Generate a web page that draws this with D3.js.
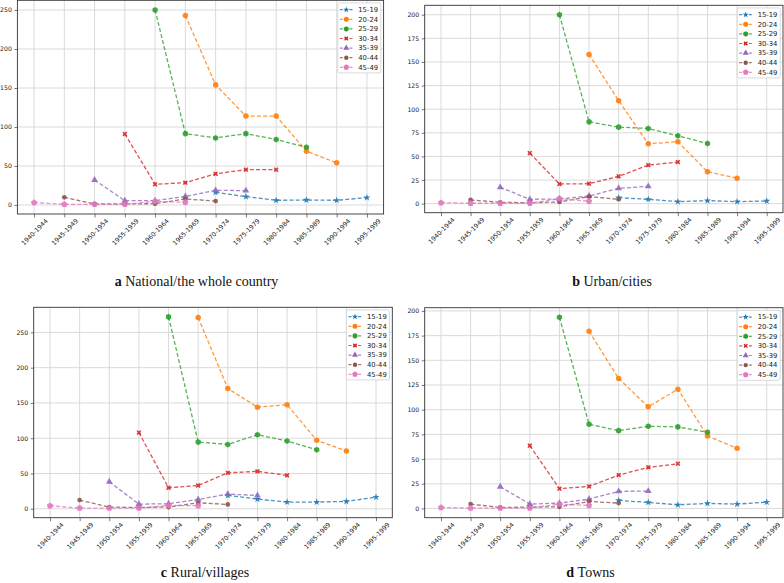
<!DOCTYPE html>
<html><head><meta charset="utf-8">
<script src="https://cdn.jsdelivr.net/npm/d3@7"></script>
<style>body{margin:0;background:#fff} svg{display:block}</style></head>
<body><svg id="chart" width="784" height="583"></svg>
<script>
const periods = ["1940-1944","1945-1949","1950-1954","1955-1959","1960-1964","1965-1969","1970-1974","1975-1979","1980-1984","1985-1989","1990-1994","1995-1999"];
const ageGroups = ["15-19","20-24","25-29","30-34","35-39","40-44","45-49"];
const colors = ["#1f77b4","#ff7f0e","#2ca02c","#d62728","#9467bd","#8c564b","#e377c2"];
const N = null;
// a National/the whole country
const national = [
  [N,N,N,N,N,N,16.2,10.7,6.0,6.4,6.0,9.4],
  [N,N,N,N,N,243,154,114,114,69,54,N],
  [N,N,N,N,250,91.5,86,91.5,84,74,N,N],
  [N,N,N,91,26.5,28.6,40,45.3,45.3,N,N,N],
  [N,N,32,5.5,5.5,11,18.8,18.4,N,N,N,N],
  [N,9.8,1.3,1.3,1.7,7.7,5.0,N,N,N,N,N],
  [3.0,0.9,0.9,0.9,4.7,3.4,N,N,N,N,N,N]
];
// b Urban/cities
const urban = [
  [N,N,N,N,N,N,6.3,4.6,2.1,3.2,2.1,2.8],
  [N,N,N,N,N,158,109,63.4,65.5,33.8,27,N],
  [N,N,N,N,200,86.6,81,79.6,71.8,63.7,N,N],
  [N,N,N,53.5,20.8,21.1,28.9,40.8,44,N,N,N],
  [N,N,17.3,4.6,4.9,8.1,16.2,18.3,N,N,N,N],
  [N,3.9,1.4,1.0,1.8,7.4,4.6,N,N,N,N,N],
  [1.0,0.4,0.4,0.4,5.3,2.5,N,N,N,N,N,N]
];
// c Rural/villages
const rural = [
  [N,N,N,N,N,N,18.9,13.7,9.5,9.5,10.4,16.5],
  [N,N,N,N,N,271,170.6,144,147.4,97,82,N],
  [N,N,N,N,272,94.5,91.2,105,96,83.6,N,N],
  [N,N,N,108,29.8,33,51,53,47.3,N,N,N],
  [N,N,38.3,6.6,7.1,13.2,20.8,18.9,N,N,N,N],
  [N,12.3,2.4,1.9,2.4,8.5,6.1,N,N,N,N,N],
  [4.3,0.9,0.9,0.9,4.7,4.3,N,N,N,N,N,N]
];
// d Towns
const towns = [
  [N,N,N,N,N,N,8.1,6.1,3.7,5.1,4.4,6.4],
  [N,N,N,N,N,179.4,131.6,102.9,120.8,73.4,60.9,N],
  [N,N,N,N,193.6,85.3,78.8,83.2,82.6,77.2,N,N],
  [N,N,N,63.6,20,22.3,33.8,41.6,45.3,N,N,N],
  [N,N,22,4.4,5.4,9.5,17.3,17.6,N,N,N,N],
  [N,4.4,1.0,1.4,1.7,7.1,5.4,N,N,N,N,N],
  [1.0,0.3,0.3,0.3,4.4,3.0,N,N,N,N,N,N]
];
const captionLetters = ["a","b","c","d"];
const captionTexts = ["National/the whole country","Urban/cities","Rural/villages","Towns"];
const yTicksA = [0,50,100,150,200,250];
const yTicksB = [0,25,50,75,100,125,150,175,200];
const yTicksC = [0,50,100,150,200,250];
const yTicksD = [0,25,50,75,100,125,150,175,200];

// pentagon & hexagon symbols
function polySymbol(n, rot){
  return {draw(ctx, size){
    const r = Math.sqrt(size/ (n*0.5*Math.sin(2*Math.PI/n)));
    for(let k=0;k<n;k++){
      const a = rot + k*2*Math.PI/n;
      const px = r*Math.sin(a), py = -r*Math.cos(a);
      if(k===0) ctx.moveTo(px,py); else ctx.lineTo(px,py);
    }
    ctx.closePath();
  }};
}
const xSym = {draw(ctx,size){
  const r = Math.sqrt(size)/2.2, w = r*0.38;
  const pts=[[-r+w,-r],[0,-w*1.4],[r-w,-r],[r,-r+w],[w*1.4,0],[r,r-w],[r-w,r],[0,w*1.4],[-r+w,r],[-r,r-w],[-w*1.4,0],[-r,-r+w]];
  pts.forEach((p,i)=> i? ctx.lineTo(p[0],p[1]) : ctx.moveTo(p[0],p[1]));
  ctx.closePath();
}};
const symbols = [d3.symbolStar, d3.symbolCircle, polySymbol(6,0), xSym, d3.symbolTriangle, d3.symbolCircle, polySymbol(5,0)];
const symSizes = [16, 24, 24, 28, 20, 18, 26];
const legSizes = [12, 20, 20, 22, 16, 15, 22];

const panels = [
  {data: national, yTicks: yTicksA, x0:17.4, x1:383.6, y0:0.3, y1:214, capX:196.5, capY:285.5},
  {data: urban, yTicks: yTicksB, x0:424.7, x1:783, y0:5.3, y1:212.7, capX:612, capY:285.5},
  {data: rural, yTicks: yTicksC, x0:33.7, x1:392.3, y0:307.3, y1:517.7, capX:205, capY:577},
  {data: towns, yTicks: yTicksD, x0:424.7, x1:783, y0:307.7, y1:517.7, capX:590.5, capY:577}
];

const svg = d3.select("#chart");
svg.append("rect").attr("width",784).attr("height",583).attr("fill","#fff");
const tickFont = "'DejaVu Sans', sans-serif";

panels.forEach((p, pi) => {
  const g = svg.append("g");
  const idx = periods.map((_, i) => i);
  const x = d3.scaleLinear().domain([-0.55, periods.length - 1 + 0.55]).range([p.x0, p.x1]);
  const vals = p.data.flat().filter(v => v != null);
  const mn = d3.min(vals), mx = d3.max(vals), r = mx - mn;
  const y = d3.scaleLinear().domain([mn - 0.05*r, mx + 0.05*r]).range([p.y1, p.y0]);

  // grid
  g.append("g").selectAll("line").data(idx).join("line")
    .attr("x1", d => x(d)).attr("x2", d => x(d)).attr("y1", p.y0).attr("y2", p.y1)
    .attr("stroke", "#d6d6d6").attr("stroke-width", 0.9);
  g.append("g").selectAll("line").data(p.yTicks).join("line")
    .attr("x1", p.x0).attr("x2", p.x1).attr("y1", d => y(d)).attr("y2", d => y(d))
    .attr("stroke", "#d6d6d6").attr("stroke-width", 0.9);

  // axes
  const ya = g.append("g").attr("transform", `translate(${p.x0},0)`)
    .call(d3.axisLeft(y).tickValues(p.yTicks).tickSize(3).tickPadding(2.5));
  ya.select(".domain").remove();
  ya.selectAll("line").attr("stroke", "#444").attr("stroke-width", 0.7);
  ya.selectAll("text").attr("font-family", tickFont).attr("font-size", 6.2).attr("fill", "#222");

  const xa = g.append("g").attr("transform", `translate(0,${p.y1})`)
    .call(d3.axisBottom(x).tickValues(idx).tickFormat(i => periods[i]).tickSize(3.5));
  xa.select(".domain").remove();
  xa.selectAll("line").attr("stroke", "#444").attr("stroke-width", 0.7);
  xa.selectAll("text")
    .attr("font-family", tickFont).attr("font-size", 6.3).attr("fill", "#222")
    .attr("y", 0).attr("dy", "0.35em").attr("text-anchor", "middle")
    .attr("transform", "translate(0,18) rotate(-45)");

  // frame
  g.append("rect").attr("x", p.x0).attr("y", p.y0).attr("width", p.x1 - p.x0).attr("height", p.y1 - p.y0)
    .attr("fill", "none").attr("stroke", "#333").attr("stroke-width", 0.9);

  // series
  const line = d3.line().defined(d => d.v != null).x(d => x(d.i)).y(d => y(d.v));
  p.data.forEach((series, si) => {
    const pts = series.map((v, i) => ({i, v}));
    g.append("path").datum(pts).attr("d", line)
      .attr("fill", "none").attr("stroke", colors[si]).attr("stroke-width", 1.3)
      .attr("stroke-dasharray", "4,2.2").attr("opacity", 0.8);
    g.append("g").selectAll("path").data(pts.filter(d => d.v != null)).join("path")
      .attr("d", d3.symbol().type(symbols[si]).size(symSizes[si]))
      .attr("transform", d => `translate(${x(d.i)},${y(d.v)})`)
      .attr("fill", colors[si]).attr("opacity", 0.9);
  });

  // legend
  const lw = 43, lh = 70;
  const lx = p.x1 - 2.8 - lw, ly = p.y0 + 2.6;
  const lg = g.append("g");
  lg.append("rect").attr("x", lx).attr("y", ly).attr("width", lw).attr("height", lh).attr("rx", 1.5)
    .attr("fill", "#fff").attr("fill-opacity", 0.85).attr("stroke", "#d0d0d0").attr("stroke-width", 0.8);
  ageGroups.forEach((a, ai) => {
    const yy = ly + 6.8 + ai * 9.6;
    lg.append("line").attr("x1", lx + 2).attr("x2", lx + 15).attr("y1", yy).attr("y2", yy)
      .attr("stroke", colors[ai]).attr("stroke-width", 1.2).attr("stroke-dasharray", "3,1.8").attr("opacity", 0.8);
    lg.append("path").attr("d", d3.symbol().type(symbols[ai]).size(legSizes[ai]))
      .attr("transform", `translate(${lx + 8.5},${yy})`).attr("fill", colors[ai]);
    lg.append("text").attr("x", lx + 20.5).attr("y", yy).attr("dy", "0.35em")
      .attr("font-family", tickFont).attr("font-size", 6.8).attr("fill", "#222").text(a);
  });

  // caption
  const cap = svg.append("text").attr("x", p.capX).attr("y", p.capY).attr("text-anchor", "middle")
    .attr("font-family", "'Liberation Serif', 'Times New Roman', serif").attr("font-size", 14).attr("fill", "#111");
  cap.append("tspan").attr("font-weight", "bold").text(captionLetters[pi] + " ");
  cap.append("tspan").text(captionTexts[pi]);
});
</script>
</body></html>
